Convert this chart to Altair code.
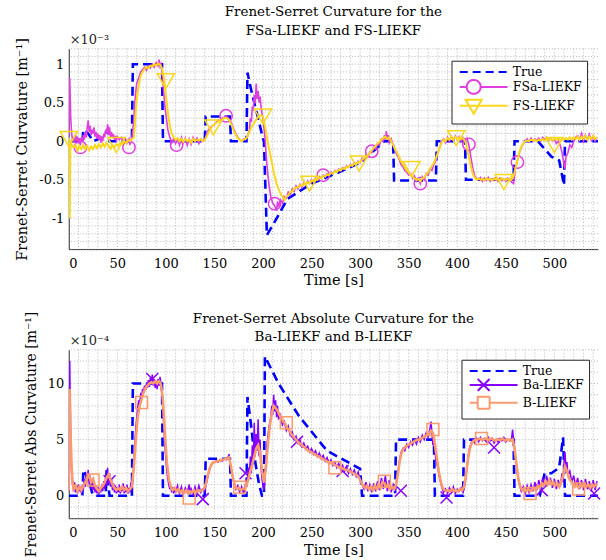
import altair as alt
import pandas as pd

FONT = "DejaVu Serif"
INK = "#262626"
GRID_COLOR = "#b8b8b8"

# ---------------- data ----------------
SERIES_TOP = ["True", "FSa-LIEKF", "FS-LIEKF"]
COLORS_TOP = ["#0000FF", "#DE3FDE", "#F9D71C"]
SERIES_BOT = ["True", "Ba-LIEKF", "B-LIEKF"]
COLORS_BOT = ["#0000FF", "#8800FF", "#FB9A6E"]

# top panel, units of 1e-3 m^-1
TRUE_TOP = [(0, 0), (14, 0), (15, 0.15), (20, 0.1), (25, 0.0), (35, 0.05), (40, 0.15), (42, 0), (65, 0),
            (66, 1.0), (72, 1.0), (96, 1.0), (97, 0), (140, 0), (141, 0.32), (150, 0.32), (166, 0.32),
            (167, 0), (183, 0), (184, 0.89), (189, 0.6), (195, 0.3), (200, 0.03), (201, 0.0),
            (204, -1.22), (215, -0.98), (225, -0.75), (250, -0.55), (275, -0.42), (300, -0.28),
            (325, 0.0), (334, 0.0), (335, -0.51), (378, -0.51), (379, 0.0), (408, 0.0), (409, -0.5),
            (458, -0.5), (459, 0.0), (483, 0.0), (497, -0.2), (505, -0.25), (510, -0.57), (511, 0.0),
            (545, 0.0)]

FSA_TOP = [(0, 0.05), (1, 0.82), (2, 0.3), (3, 0.1), (4, 0.0), (5, 0.05), (6, -0.02), (7, 0.08), (8, 0.0),
           (9, 0.06), (10, -0.03), (11, 0.04), (12, -0.05), (13, 0.05), (14, 0.0), (15, 0.08), (16, 0.02),
           (17, 0.12), (18, 0.05), (19, 0.18), (20, 0.27), (21, 0.12), (22, 0.2), (23, 0.08), (24, 0.15),
           (25, 0.1), (26, 0.18), (27, 0.06), (28, 0.12), (29, 0.03), (30, 0.1), (31, 0.02), (32, 0.08),
           (33, -0.02), (34, 0.06), (35, 0.0), (36, 0.1), (37, 0.05), (38, 0.15), (39, 0.1), (40, 0.22),
           (41, 0.08), (42, 0.18), (43, 0.05), (44, 0.12), (45, 0.04), (46, 0.09), (47, 0.02), (48, 0.07),
           (49, 0.0), (50, 0.06), (52, 0.02), (54, 0.05), (56, 0.0), (58, 0.04), (60, -0.02), (62, 0.03),
           (63, -0.05), (64, 0.02), (65, 0.05), (66, 0.15), (67, 0.3), (68, 0.5), (69, 0.65), (70, 0.75),
           (72, 0.82), (74, 0.9), (76, 0.93), (78, 0.96), (80, 0.92), (82, 0.98), (84, 0.95), (86, 1.0),
           (88, 0.96), (90, 1.02), (92, 0.98), (93, 1.06), (94, 0.97), (95, 1.0), (96, 0.9), (97, 0.75),
           (98, 0.6), (99, 0.45), (100, 0.35), (101, 0.25), (102, 0.15), (103, 0.1), (104, 0.05),
           (105, 0.02), (106, -0.02), (108, 0.03), (110, -0.03), (112, 0.02), (114, -0.05), (116, 0.05),
           (118, -0.02), (120, 0.04), (122, -0.05), (124, 0.03), (126, -0.04), (128, 0.05), (130, 0.0),
           (132, 0.04), (134, -0.03), (136, 0.03), (138, 0.0), (140, 0.02), (142, 0.1), (144, 0.15),
           (146, 0.18), (148, 0.2), (150, 0.22), (152, 0.25), (154, 0.27), (156, 0.28), (158, 0.3),
           (160, 0.31), (162, 0.33), (164, 0.3), (166, 0.28), (168, 0.22), (170, 0.15), (172, 0.1),
           (174, 0.05), (176, 0.02), (178, 0.0), (180, 0.03), (182, 0.02), (184, 0.06), (186, 0.15),
           (187, 0.3), (188, 0.25), (189, 0.45), (190, 0.4), (191, 0.6), (192, 0.5), (193, 0.75),
           (194, 0.55), (195, 0.65), (196, 0.5), (197, 0.58), (198, 0.45), (199, 0.35), (200, 0.3),
           (202, 0.05), (204, -0.3), (206, -0.55), (208, -0.72), (210, -0.8), (212, -0.84), (214, -0.9),
           (215, -0.78), (216, -0.85), (218, -0.76), (220, -0.8), (222, -0.72), (224, -0.74), (226, -0.66),
           (228, -0.7), (230, -0.62), (232, -0.65), (234, -0.58), (236, -0.62), (238, -0.56), (240, -0.6),
           (242, -0.54), (244, -0.57), (246, -0.52), (248, -0.55), (250, -0.5), (252, -0.53), (254, -0.48),
           (256, -0.5), (258, -0.46), (260, -0.48), (262, -0.44), (264, -0.46), (266, -0.42), (268, -0.44),
           (270, -0.4), (272, -0.42), (274, -0.38), (276, -0.4), (278, -0.36), (280, -0.38), (282, -0.34),
           (284, -0.36), (286, -0.32), (288, -0.34), (290, -0.3), (292, -0.32), (294, -0.28), (296, -0.3),
           (298, -0.26), (300, -0.28), (302, -0.22), (304, -0.25), (306, -0.18), (308, -0.2), (310, -0.14),
           (312, -0.15), (314, -0.08), (316, -0.1), (318, -0.03), (320, -0.05), (322, 0.03), (324, 0.0),
           (325, 0.08), (326, 0.02), (327, 0.13), (328, 0.02), (329, 0.08), (330, -0.02), (332, 0.03),
           (334, -0.05), (336, -0.12), (338, -0.18), (340, -0.22), (342, -0.3), (344, -0.33), (346, -0.38),
           (348, -0.4), (350, -0.44), (352, -0.42), (354, -0.48), (356, -0.45), (358, -0.52), (360, -0.48),
           (362, -0.55), (364, -0.46), (366, -0.5), (368, -0.42), (370, -0.44), (372, -0.36), (374, -0.38),
           (376, -0.3), (378, -0.25), (380, -0.15), (382, -0.08), (384, 0.0), (386, 0.03), (388, -0.02),
           (390, 0.05), (392, 0.0), (394, 0.06), (396, 0.01), (398, 0.07), (400, 0.02), (402, 0.06),
           (404, 0.0), (406, 0.05), (408, 0.02), (410, 0.04), (412, -0.05), (414, -0.2), (416, -0.35),
           (418, -0.45), (420, -0.48), (422, -0.5), (424, -0.47), (426, -0.52), (428, -0.48), (430, -0.51),
           (432, -0.47), (434, -0.52), (436, -0.49), (438, -0.5), (440, -0.47), (442, -0.52), (444, -0.48),
           (446, -0.51), (448, -0.49), (450, -0.52), (452, -0.48), (454, -0.5), (456, -0.53), (458, -0.55),
           (459, -0.45), (460, -0.35), (462, -0.25), (464, -0.15), (466, -0.08), (468, -0.03), (470, 0.0),
           (472, 0.03), (474, -0.01), (476, 0.04), (478, 0.0), (480, 0.03), (482, 0.01), (484, 0.04),
           (486, 0.0), (488, 0.05), (490, 0.02), (492, 0.05), (494, 0.01), (496, 0.04), (498, 0.0),
           (500, 0.03), (502, -0.03), (504, 0.0), (506, -0.05), (508, -0.15), (510, -0.3), (511, -0.36),
           (512, -0.2), (514, -0.15), (516, -0.05), (518, -0.08), (520, 0.0), (522, 0.05), (524, 0.07),
           (526, 0.02), (528, 0.1), (530, 0.0), (532, 0.08), (534, 0.02), (536, 0.09), (538, 0.01),
           (540, 0.07), (542, 0.0), (544, 0.05)]

FS_TOP = [(0, 0.05), (0.5, -0.3), (1, -1.0), (1.5, -0.2), (2, 0.02), (3, -0.05), (5, -0.08), (7, -0.05),
          (9, -0.12), (11, -0.06), (13, -0.1), (15, -0.05), (17, -0.1), (19, -0.06), (21, -0.12), (23, -0.07),
          (25, -0.1), (27, -0.05), (29, -0.09), (31, -0.04), (33, -0.08), (35, -0.03), (37, -0.07),
          (39, -0.02), (41, -0.06), (43, -0.1), (45, -0.05), (47, -0.08), (49, -0.04), (51, -0.06),
          (53, -0.02), (55, -0.04), (57, 0.0), (59, -0.03), (61, 0.02), (63, 0.0), (65, 0.03), (67, 0.05),
          (68, 0.2), (69, 0.4), (70, 0.55), (72, 0.72), (74, 0.85), (76, 0.9), (78, 0.94), (80, 0.96),
          (82, 0.95), (84, 0.98), (86, 0.97), (88, 1.0), (90, 0.98), (92, 1.01), (94, 0.99), (96, 0.95),
          (98, 0.82), (100, 0.6), (102, 0.38), (104, 0.2), (106, 0.1), (108, 0.05), (110, 0.02), (112, 0.04),
          (114, 0.0), (116, 0.03), (118, -0.01), (120, 0.03), (122, 0.0), (124, 0.02), (126, -0.02),
          (128, 0.03), (130, 0.0), (132, 0.02), (134, 0.01), (136, 0.03), (138, 0.0), (140, 0.02),
          (142, 0.06), (144, 0.12), (146, 0.16), (148, 0.2), (150, 0.22), (152, 0.24), (154, 0.25),
          (156, 0.27), (158, 0.28), (160, 0.3), (162, 0.3), (164, 0.29), (166, 0.26), (168, 0.2), (170, 0.13),
          (172, 0.08), (174, 0.04), (176, 0.02), (178, 0.0), (180, 0.02), (182, 0.03), (184, 0.06),
          (186, 0.12), (188, 0.18), (190, 0.22), (192, 0.26), (194, 0.3), (196, 0.33), (198, 0.34),
          (200, 0.32), (202, 0.2), (204, 0.05), (206, -0.08), (208, -0.2), (210, -0.33), (212, -0.45),
          (214, -0.55), (216, -0.62), (218, -0.68), (220, -0.72), (222, -0.76), (224, -0.72), (226, -0.7),
          (228, -0.66), (230, -0.65), (232, -0.62), (234, -0.6), (236, -0.6), (238, -0.57), (240, -0.58),
          (242, -0.55), (244, -0.56), (246, -0.53), (248, -0.55), (250, -0.51), (252, -0.52), (254, -0.49),
          (256, -0.5), (258, -0.47), (260, -0.48), (262, -0.45), (264, -0.46), (266, -0.43), (268, -0.44),
          (270, -0.41), (272, -0.42), (274, -0.39), (276, -0.4), (278, -0.37), (280, -0.38), (282, -0.35),
          (284, -0.36), (286, -0.33), (288, -0.34), (290, -0.31), (292, -0.32), (294, -0.29), (296, -0.3),
          (298, -0.27), (300, -0.27), (302, -0.24), (304, -0.22), (306, -0.2), (308, -0.18), (310, -0.15),
          (312, -0.12), (314, -0.09), (316, -0.06), (318, -0.03), (320, -0.01), (322, 0.02), (324, 0.04),
          (326, 0.06), (328, 0.03), (330, 0.05), (332, 0.0), (334, -0.05), (336, -0.1), (338, -0.15),
          (340, -0.2), (342, -0.26), (344, -0.3), (346, -0.34), (348, -0.38), (350, -0.4), (352, -0.44),
          (354, -0.46), (356, -0.48), (358, -0.5), (360, -0.49), (362, -0.52), (364, -0.48), (366, -0.47),
          (368, -0.43), (370, -0.4), (372, -0.36), (374, -0.32), (376, -0.28), (378, -0.22), (380, -0.15),
          (382, -0.08), (384, -0.02), (386, 0.02), (388, 0.0), (390, 0.04), (392, 0.02), (394, 0.05),
          (396, 0.03), (398, 0.06), (400, 0.02), (402, 0.05), (404, 0.03), (406, 0.04), (408, 0.0),
          (410, -0.08), (412, -0.2), (414, -0.32), (416, -0.42), (418, -0.47), (420, -0.5), (422, -0.48),
          (424, -0.5), (426, -0.49), (428, -0.51), (430, -0.48), (432, -0.5), (434, -0.49), (436, -0.51),
          (438, -0.48), (440, -0.5), (442, -0.49), (444, -0.51), (446, -0.48), (448, -0.5), (450, -0.5),
          (452, -0.49), (454, -0.51), (456, -0.5), (458, -0.45), (460, -0.35), (462, -0.25), (464, -0.14),
          (466, -0.07), (468, -0.03), (470, 0.0), (472, 0.01), (474, 0.0), (476, 0.02), (478, 0.01),
          (480, 0.02), (482, 0.0), (484, 0.02), (486, 0.01), (488, 0.03), (490, 0.01), (492, 0.03),
          (494, 0.02), (496, 0.03), (498, 0.01), (500, 0.03), (502, 0.02), (504, 0.04), (506, 0.01),
          (508, 0.03), (510, 0.02), (512, 0.04), (514, 0.02), (516, 0.05), (518, 0.02), (520, 0.05),
          (522, 0.03), (524, 0.06), (526, 0.02), (528, 0.06), (530, 0.03), (532, 0.07), (534, 0.02),
          (536, 0.06), (538, 0.03), (540, 0.07), (542, 0.03), (544, 0.05)]

FSA_MARK_T = [12, 62, 111, 162, 212, 262, 312, 362, 412, 462]
FSA_MARK_V = [-0.08, -0.08, -0.05, 0.33, -0.81, -0.44, -0.13, -0.55, -0.04, -0.27]
FS_MARK_T = [0, 49, 100, 149, 200, 248, 299, 353, 399, 448, 500]
FS_MARK_V = [0.03, -0.05, 0.78, 0.18, 0.32, -0.55, -0.29, -0.36, 0.04, -0.53, -0.05]

# bottom panel, units of 1e-4 m^-1
TRUE_BOT = [(0, 0), (14, 0), (15, 2.3), (20, 1.5), (24, 0.3), (26, 0), (38, 0), (39, 2.3), (42, 0),
            (65, 0), (66, 10), (72, 10), (96, 10), (97, 0), (140, 0), (141, 3.3), (150, 3.3), (166, 3.3),
            (167, 0), (183, 0), (184, 8.8), (187, 6.8), (192, 3.0), (196, 1.0), (199, 0), (201, 0),
            (202, 12.4), (216, 10.0), (237, 7.1), (266, 4.0), (300, 2.4), (302, 0), (336, 0), (337, 5.0),
            (376, 5.0), (377, 0), (406, 0), (407, 5.0), (458, 5.0), (459, 0), (485, 0), (490, 2.0),
            (497, 2.0), (505, 2.5), (509, 5.2), (511, 0), (545, 0)]

BA_BOT = [(0, 0.5), (1, 12.0), (2, 4.5), (3, 2.0), (4, 1.0), (5, 0.4), (6, 1.2), (7, 0.3), (8, 0.9), (9, 0.2),
          (10, 1.0), (11, 0.4), (12, 0.8), (13, 0.2), (14, 1.0), (15, 0.5), (16, 1.5), (17, 0.8), (18, 2.0),
          (19, 1.2), (20, 2.3), (21, 1.0), (22, 1.8), (23, 0.6), (24, 1.4), (25, 0.5), (26, 1.2), (27, 0.3),
          (28, 0.9), (29, 0.2), (30, 0.8), (31, 0.1), (32, 0.7), (33, 0.3), (34, 1.0), (35, 0.4), (36, 1.3),
          (37, 0.6), (38, 1.8), (39, 1.0), (40, 2.5), (41, 1.2), (42, 2.0), (43, 0.8), (44, 1.5), (45, 0.5),
          (46, 1.1), (47, 0.3), (48, 0.9), (49, 0.2), (50, 0.8), (51, 0.3), (52, 1.0), (53, 0.2), (54, 0.7),
          (55, 0.4), (56, 1.1), (57, 0.2), (58, 0.8), (59, 0.3), (60, 1.0), (61, 0.2), (62, 0.7), (63, 0.3),
          (64, 1.2), (65, 0.5), (66, 1.5), (67, 3.0), (68, 4.5), (69, 6.0), (70, 7.0), (71, 7.8), (72, 8.5),
          (73, 8.2), (74, 9.0), (75, 8.8), (76, 9.5), (77, 9.2), (78, 9.8), (79, 9.4), (80, 10.0), (81, 9.6),
          (82, 10.3), (83, 9.7), (84, 10.5), (85, 10.0), (86, 10.8), (87, 9.8), (88, 10.4), (89, 9.6),
          (90, 10.2), (91, 9.5), (92, 10.4), (93, 9.8), (94, 10.6), (95, 9.9), (96, 9.0), (97, 7.5),
          (98, 6.0), (99, 4.5), (100, 3.2), (101, 2.2), (102, 1.5), (103, 1.0), (104, 0.6), (105, 0.9),
          (106, 0.3), (107, 0.8), (108, 0.2), (109, 0.7), (110, 0.3), (112, 0.9), (114, 0.2), (116, 0.8),
          (118, 0.1), (120, 0.7), (122, 0.3), (124, 1.0), (125, 0.2), (126, 0.6), (128, 0.1), (130, 0.8),
          (132, 0.2), (134, 0.9), (136, 0.3), (138, 0.6), (140, 0.4), (142, 1.2), (144, 2.0), (146, 2.6),
          (148, 2.9), (150, 3.0), (152, 3.1), (154, 3.0), (156, 3.2), (158, 3.1), (160, 3.3), (162, 3.2),
          (164, 3.4), (165, 3.7), (166, 3.0), (168, 2.0), (170, 1.2), (172, 0.6), (174, 0.9), (176, 0.3),
          (178, 0.8), (180, 0.2), (182, 1.0), (184, 1.6), (185, 2.5), (186, 1.8), (187, 3.5), (188, 2.0),
          (189, 4.5), (190, 2.8), (191, 6.5), (192, 3.5), (193, 5.5), (194, 4.0), (195, 6.8), (196, 3.5),
          (197, 5.0), (198, 2.5), (199, 1.5), (200, 0.8), (201, 0.5), (202, 1.5), (203, 3.0), (204, 4.5),
          (206, 6.0), (208, 7.0), (209, 8.0), (210, 7.2), (211, 9.0), (212, 7.5), (213, 8.5), (214, 7.0),
          (215, 8.0), (216, 6.8), (218, 7.2), (220, 6.3), (222, 6.6), (224, 5.8), (226, 6.2), (228, 5.4),
          (230, 5.7), (232, 5.0), (234, 5.3), (236, 4.7), (238, 5.0), (240, 4.4), (242, 4.7), (244, 4.2),
          (246, 4.4), (248, 3.9), (250, 4.2), (252, 3.7), (254, 4.0), (256, 3.5), (258, 3.8), (260, 3.3),
          (262, 3.6), (264, 3.1), (266, 3.4), (268, 2.9), (270, 3.2), (272, 2.7), (274, 3.0), (276, 2.5),
          (278, 2.9), (280, 2.3), (282, 2.7), (284, 2.2), (286, 2.6), (288, 2.0), (290, 2.4), (292, 1.9),
          (294, 2.3), (296, 1.7), (298, 2.1), (300, 1.4), (302, 1.0), (304, 0.6), (306, 1.2), (308, 0.4),
          (310, 1.0), (312, 0.3), (314, 1.1), (316, 0.4), (318, 1.3), (320, 0.5), (322, 1.6), (324, 0.6),
          (326, 1.8), (328, 0.4), (330, 1.4), (332, 0.3), (334, 1.0), (336, 0.4), (338, 1.5), (340, 2.8),
          (342, 3.8), (344, 4.2), (346, 4.0), (348, 4.6), (350, 4.3), (352, 4.8), (354, 4.5), (356, 5.0),
          (358, 4.6), (360, 5.2), (362, 4.8), (364, 5.4), (366, 5.0), (368, 5.6), (370, 5.2), (372, 6.0),
          (373, 6.6), (374, 5.5), (375, 4.5), (376, 5.2), (377, 4.0), (378, 3.2), (380, 2.5), (382, 1.5),
          (384, 0.8), (386, 0.3), (388, 0.6), (390, 0.2), (392, 0.7), (394, 0.3), (396, 0.8), (398, 0.2),
          (400, 0.6), (402, 0.4), (404, 0.7), (406, 0.3), (408, 1.0), (410, 2.5), (412, 4.0), (414, 4.6),
          (416, 5.0), (418, 4.7), (420, 5.1), (422, 4.8), (424, 5.2), (426, 4.9), (428, 5.1), (430, 4.8),
          (432, 5.2), (434, 4.9), (436, 5.1), (438, 4.7), (440, 5.0), (442, 4.8), (444, 5.1), (446, 4.9),
          (448, 5.2), (450, 4.8), (452, 5.0), (454, 4.9), (456, 5.1), (457, 5.9), (458, 5.0), (460, 3.5),
          (462, 2.0), (464, 1.0), (466, 0.4), (468, 0.8), (470, 0.2), (472, 0.9), (474, 0.3), (476, 1.0),
          (478, 0.4), (480, 1.2), (482, 0.5), (484, 1.4), (486, 0.6), (488, 1.6), (490, 0.8), (492, 1.8),
          (494, 1.0), (496, 1.6), (498, 0.7), (500, 1.5), (502, 0.6), (504, 1.4), (506, 0.8), (508, 2.0),
          (509, 1.2), (510, 3.0), (511, 3.9), (512, 2.5), (513, 3.0), (514, 1.8), (516, 2.2), (518, 1.2),
          (520, 1.8), (522, 0.8), (524, 1.6), (526, 0.6), (528, 1.4), (530, 0.5), (532, 1.5), (534, 0.6),
          (536, 1.3), (538, 0.4), (540, 1.4), (542, 0.5), (544, 1.3)]

B_BOT = [(0, 0.5), (1, 9.5), (2, 5.0), (3, 2.5), (4, 1.2), (5, 0.6), (7, 0.9), (9, 0.4), (11, 0.8), (13, 0.5),
         (15, 0.9), (17, 1.2), (19, 1.6), (21, 1.8), (23, 1.2), (25, 1.5), (27, 0.9), (29, 0.6), (31, 0.4),
         (33, 0.7), (35, 0.9), (37, 1.2), (39, 1.6), (41, 1.9), (43, 1.4), (45, 1.0), (47, 0.7), (49, 0.5),
         (51, 0.7), (53, 0.5), (55, 0.8), (57, 0.5), (59, 0.7), (61, 0.4), (63, 0.6), (65, 0.8), (67, 2.5),
         (69, 5.0), (71, 7.0), (73, 8.0), (75, 8.6), (77, 9.2), (79, 9.6), (81, 9.8), (83, 10.0), (85, 10.1),
         (87, 10.0), (89, 10.2), (91, 10.0), (93, 10.2), (95, 9.9), (97, 8.5), (99, 5.5), (101, 3.0),
         (103, 1.5), (105, 0.8), (107, 0.5), (109, 0.7), (111, 0.4), (113, 0.6), (115, 0.3), (117, 0.5),
         (119, 0.3), (121, 0.5), (123, 0.2), (125, 0.4), (127, 0.3), (129, 0.5), (131, 0.3), (133, 0.5),
         (135, 0.4), (137, 0.5), (139, 0.6), (141, 1.0), (143, 1.8), (145, 2.4), (147, 2.8), (149, 3.0),
         (151, 3.0), (153, 3.1), (155, 3.1), (157, 3.2), (159, 3.2), (161, 3.3), (163, 3.3), (165, 3.4),
         (167, 2.6), (169, 1.6), (171, 0.9), (173, 0.6), (175, 0.7), (177, 0.5), (179, 0.6), (181, 0.6),
         (183, 0.9), (185, 1.5), (187, 2.2), (189, 2.8), (191, 3.5), (193, 4.2), (195, 4.5), (197, 3.8),
         (199, 2.2), (201, 1.2), (203, 2.5), (205, 4.5), (207, 6.2), (209, 7.3), (211, 8.0), (213, 7.8),
         (215, 7.6), (217, 7.2), (219, 6.9), (221, 6.6), (223, 6.4), (225, 6.0), (227, 5.8), (229, 5.5),
         (231, 5.3), (233, 5.1), (235, 4.9), (237, 4.7), (239, 4.6), (241, 4.4), (243, 4.3), (245, 4.1),
         (247, 4.0), (249, 3.9), (251, 3.8), (253, 3.7), (255, 3.6), (257, 3.5), (259, 3.4), (261, 3.3),
         (263, 3.2), (265, 3.1), (267, 3.0), (269, 2.9), (271, 2.9), (273, 2.8), (275, 2.7), (277, 2.6),
         (279, 2.5), (281, 2.5), (283, 2.4), (285, 2.3), (287, 2.3), (289, 2.2), (291, 2.1), (293, 2.0),
         (295, 1.9), (297, 1.8), (299, 1.6), (301, 1.2), (303, 0.9), (305, 0.7), (307, 0.9), (309, 0.6),
         (311, 0.8), (313, 0.5), (315, 0.9), (317, 0.6), (319, 1.0), (321, 0.7), (323, 1.2), (325, 1.1),
         (327, 0.8), (329, 1.0), (331, 0.6), (333, 0.8), (335, 0.6), (337, 1.0), (339, 2.0), (341, 3.2),
         (343, 3.9), (345, 4.2), (347, 4.4), (349, 4.5), (351, 4.6), (353, 4.7), (355, 4.8), (357, 4.9),
         (359, 5.0), (361, 5.0), (363, 5.1), (365, 5.2), (367, 5.3), (369, 5.4), (371, 5.5), (373, 5.8),
         (375, 5.6), (377, 4.6), (379, 3.4), (381, 2.2), (383, 1.3), (385, 0.7), (387, 0.5), (389, 0.4),
         (391, 0.5), (393, 0.4), (395, 0.6), (397, 0.4), (399, 0.5), (401, 0.4), (403, 0.6), (405, 0.5),
         (407, 0.8), (409, 1.8), (411, 3.2), (413, 4.2), (415, 4.7), (417, 4.9), (419, 5.0), (421, 5.0),
         (423, 5.1), (425, 5.0), (427, 5.0), (429, 5.1), (431, 5.0), (433, 5.0), (435, 5.1), (437, 5.0),
         (439, 4.9), (441, 5.0), (443, 5.0), (445, 5.0), (447, 5.1), (449, 4.9), (451, 5.0), (453, 5.0),
         (455, 4.9), (457, 5.0), (459, 4.2), (461, 2.8), (463, 1.5), (465, 0.8), (467, 0.5), (469, 0.6),
         (471, 0.4), (473, 0.6), (475, 0.4), (477, 0.5), (479, 0.7), (481, 0.5), (483, 0.9), (485, 0.7),
         (487, 1.1), (489, 0.9), (491, 1.3), (493, 1.0), (495, 1.4), (497, 1.0), (499, 1.2), (501, 0.9),
         (503, 1.1), (505, 0.8), (507, 1.2), (509, 1.8), (511, 2.6), (513, 2.2), (515, 1.6), (517, 1.3),
         (519, 1.1), (521, 0.8), (523, 1.0), (525, 0.7), (527, 1.0), (529, 0.8), (531, 1.1), (533, 0.8),
         (535, 1.0), (537, 0.7), (539, 1.0), (541, 0.8), (543, 1.0), (544, 0.9)]

BA_MARK_T = [42, 86, 138, 182, 235, 282, 342, 389, 438, 487, 541]
BA_MARK_V = [1.3, 10.4, -0.3, 2.0, 4.8, 2.2, 0.45, -0.15, 4.3, 0.5, 0.2]
B_MARK_T = [25, 75, 124, 176, 224, 274, 325, 375, 425, 475, 525]
B_MARK_V = [1.4, 8.3, -0.2, 0.75, 6.5, 2.5, 1.3, 5.9, 5.1, 0.2, 0.6]

X_TICKS = [0, 50, 100, 150, 200, 250, 300, 350, 400, 450, 500]
Y_TICKS_TOP = [-1, -0.5, 0, 0.5, 1]
Y_TICKS_BOT = [0, 5, 10]
GRID_X = list(range(0, 546, 10))
GRID_Y_TOP = [round(-1.4 + 0.1 * i, 2) for i in range(27)]
GRID_Y_BOT = list(range(-2, 14))

# ---------------- helpers ----------------
W = 531
LABEL_EXPR = "datum.value + ''"
X_SCALE = alt.Scale(domain=[0, 545], nice=False, zero=False)
X = alt.X("t:Q", scale=X_SCALE, title="Time [s]",
          axis=alt.Axis(values=X_TICKS, grid=False, ticks=False, labelPadding=8,
                        titlePadding=4, labelExpr=LABEL_EXPR))


def y_enc(scale, ticks, title, tsize):
    return alt.Y("v:Q", scale=scale, title=title,
                 axis=alt.Axis(values=ticks, grid=False, ticks=False, labelPadding=5,
                               titlePadding=9, labelExpr=LABEL_EXPR, titleFontSize=tsize))


YS_TOP = alt.Scale(domain=[-1.4, 1.2], nice=False, zero=False)
YS_BOT = alt.Scale(domain=[-2, 13], nice=False, zero=False)
Y_TOP = y_enc(YS_TOP, Y_TICKS_TOP, "Frenet-Serret Curvature [m⁻¹]", 14.5)
Y_BOT = y_enc(YS_BOT, Y_TICKS_BOT, "Frenet-Serret Abs Curvature [m⁻¹]", 14)

# legend symbols: line + marker as paths (one unit = sqrt(36)/2 = 3 px)
P_LINE = "M-1,0H15"
P_CIRCLE = "M-1,0H1.34M6,0H15M1.34,0A2.33,2.33 0 1,0 6,0A2.33,2.33 0 1,0 1.34,0"
P_TRI = "M-1,0H15M1,-2L6.34,-2L3.67,2.67Z"
P_X = "M-1,0H15M1.67,-2L5.67,2M1.67,2L5.67,-2"
P_SQ = "M-1,0H1.67M5.67,0H15M1.67,-2H5.67V2H1.67Z"
X_SHAPE = "M-1,-1L1,1M-1,1L1,-1"


def df_pairs(pairs):
    return pd.DataFrame(pairs, columns=["t", "v"])


def legend_layer(names, colors, paths, Y, lx, ly):
    leg = alt.Legend(title=None, orient="none", legendX=lx, legendY=ly, fillColor="white",
                     strokeColor=INK, padding=5, symbolSize=36, symbolStrokeWidth=2,
                     labelFont=FONT, labelFontSize=12.5, labelColor="#000000", labelOffset=44,
                     rowPadding=-3, symbolFillColor="transparent", symbolOpacity=1)
    d = pd.DataFrame({"series": names, "t": [-100] * len(names), "v": [0] * len(names)})
    return alt.Chart(d).mark_point(clip=True, filled=False, size=36, strokeWidth=2).encode(
        x=X, y=Y,
        color=alt.Color("series:N", scale=alt.Scale(domain=names, range=colors), legend=leg),
        shape=alt.Shape("series:N", scale=alt.Scale(domain=names, range=paths), legend=leg),
        strokeDash=alt.StrokeDash("series:N", scale=alt.Scale(domain=names, range=[[8, 5], [1, 0], [1, 0]]),
                                  legend=leg),
    )


def line(pairs, color, width, Y, dash=None):
    kw = dict(color=color, strokeWidth=width, clip=True)
    if dash is not None:
        kw["strokeDash"] = dash
    return alt.Chart(df_pairs(pairs)).mark_line(**kw).encode(x=X, y=Y)


def marks(ts, vs, color, shape, size, Y):
    return alt.Chart(pd.DataFrame({"t": ts, "v": vs})).mark_point(
        shape=shape, size=size, filled=False, color=color, strokeWidth=1.5, opacity=1).encode(x=X, y=Y)


def panel(Y, grid_y, layers, title_lines, mult_text, height, leg, offset):
    gx = alt.Chart(pd.DataFrame({"t": GRID_X})).mark_rule(
        color=GRID_COLOR, strokeDash=[1, 2], strokeWidth=1).encode(x=X)
    gy = alt.Chart(pd.DataFrame({"v": grid_y})).mark_rule(
        color=GRID_COLOR, strokeDash=[1, 2], strokeWidth=1).encode(y=Y)
    txt = alt.Chart(pd.DataFrame({"txt": [mult_text]})).mark_text(
        align="left", baseline="alphabetic", font=FONT, fontSize=13, color=INK, dx=1).encode(
        x=alt.value(0), y=alt.value(-5), text="txt:N")
    return alt.layer(gx, gy, *layers, leg, txt).properties(
        width=W, height=height,
        title=alt.TitleParams(title_lines, font=FONT, fontSize=13.5, fontWeight="normal",
                              color="#000000", anchor="middle", offset=offset, lineHeight=19),
    )


top_layers = [
    line(TRUE_TOP, COLORS_TOP[0], 2.6, Y_TOP, dash=[9, 5]),
    line(FSA_TOP, COLORS_TOP[1], 1.6, Y_TOP),
    marks(FSA_MARK_T, FSA_MARK_V, COLORS_TOP[1], "circle", 154, Y_TOP),
    line(FS_TOP, COLORS_TOP[2], 2.0, Y_TOP),
    marks(FS_MARK_T, FS_MARK_V, COLORS_TOP[2], "triangle-down", 300, Y_TOP),
]
top = panel(Y_TOP, GRID_Y_TOP, top_layers,
            ["Frenet-Serret Curvature for the", "FSa-LIEKF and FS-LIEKF"], "×10⁻³", 201,
            legend_layer(SERIES_TOP, COLORS_TOP, [P_LINE, P_CIRCLE, P_TRI], Y_TOP, 384, 12), -4)

bot_layers = [
    line(TRUE_BOT, COLORS_BOT[0], 2.6, Y_BOT, dash=[9, 5]),
    line(BA_BOT, COLORS_BOT[1], 1.5, Y_BOT),
    marks(BA_MARK_T, BA_MARK_V, COLORS_BOT[1], X_SHAPE, 144, Y_BOT),
    line(B_BOT, COLORS_BOT[2], 2.6, Y_BOT),
    marks(B_MARK_T, B_MARK_V, COLORS_BOT[2], "square", 144, Y_BOT),
]
bot = panel(Y_BOT, GRID_Y_BOT, bot_layers,
            ["Frenet-Serret Absolute Curvature for the", "Ba-LIEKF and B-LIEKF"], "×10⁻⁴", 169,
            legend_layer(SERIES_BOT, COLORS_BOT, [P_LINE, P_X, P_SQ], Y_BOT, 394, 10), -33)

chart = alt.vconcat(top, bot, spacing=23).resolve_scale(
    color="independent", shape="independent", strokeDash="independent", y="independent"
).properties(
    padding={"left": 14, "top": 4, "right": 2, "bottom": 2},
    background="white",
).configure_view(stroke=None).configure_axis(
    labelFont=FONT, labelFontSize=13, labelColor="#000000", titleFont=FONT, titleFontSize=14.5,
    titleFontWeight="normal", titleColor="#000000", domainColor=INK, domainWidth=1,
)

chart.save("out.html", embed_options={"renderer": "svg", "actions": False})
